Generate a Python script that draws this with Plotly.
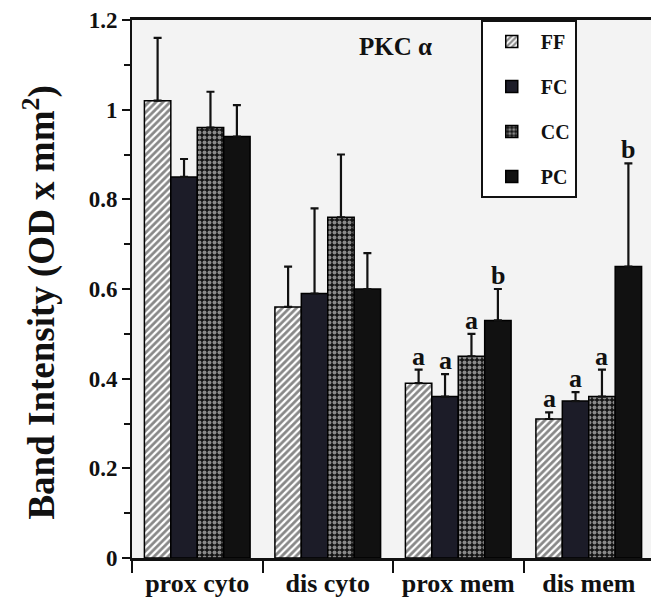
import plotly.graph_objects as go

categories = ["prox cyto", "dis cyto", "prox mem", "dis mem"]
groups = ["FF", "FC", "CC", "PC"]

# mean values per group (one value per category)
values = {
    "FF": [1.02, 0.56, 0.39, 0.31],
    "FC": [0.85, 0.59, 0.36, 0.35],
    "CC": [0.96, 0.76, 0.45, 0.36],
    "PC": [0.94, 0.60, 0.53, 0.65],
}
# upper error (SE)
errors = {
    "FF": [0.14, 0.09, 0.03, 0.015],
    "FC": [0.04, 0.19, 0.05, 0.02],
    "CC": [0.08, 0.14, 0.05, 0.06],
    "PC": [0.07, 0.08, 0.07, 0.23],
}
# significance letters (None = no label)
sig_letters = {
    "FF": [None, None, "a", "a"],
    "FC": [None, None, "a", "a"],
    "CC": [None, None, "a", "a"],
    "PC": [None, None, "b", "b"],
}

y_ticks = [0, 0.2, 0.4, 0.6, 0.8, 1.0, 1.2]
y_tick_text = ["0", "0.2", "0.4", "0.6", "0.8", "1", "1.2"]

SERIF = "Liberation Serif"

styles = {
    "FF": dict(color="white", pattern=dict(shape="/", fgcolor="#111", bgcolor="white", size=5, solidity=0.55)),
    "FC": dict(color="#1c1c28", pattern=None),
    "CC": dict(color="#141414", pattern=dict(shape=".", fgcolor="white", bgcolor="#141414", size=5, solidity=0.5)),
    "PC": dict(color="#111111", pattern=None),
}

fig = go.Figure()
for i, g in enumerate(groups):
    st = styles[g]
    marker = dict(color=st["color"], line=dict(color="black", width=1.5))
    if st["pattern"] is not None:
        marker["pattern"] = st["pattern"]
    fig.add_trace(go.Bar(
        name=g, x=categories, y=values[g],
        marker=marker,
        legendgroup=g,
        error_y=dict(type="data", symmetric=False, array=errors[g],
                     arrayminus=[0] * len(categories),
                     color="#111", thickness=2.2, width=4),
    ))

bargap = 0.19
n = len(groups)
bw = (1 - bargap) / n
for i, g in enumerate(groups):
    off = -(1 - bargap) / 2 + bw * (i + 0.5)
    for j, c in enumerate(categories):
        lab = sig_letters[g][j]
        if lab:
            fig.add_annotation(
                x=j + off, y=values[g][j] + errors[g][j], xref="x", yref="y",
                text=lab, showarrow=False, yanchor="bottom", yshift=-3,
                font=dict(family=SERIF, size=26, color="#111", weight="bold"),
            )

fig.add_annotation(
    x=0.507, y=0.95, xref="paper", yref="paper", text="PKC α", showarrow=False,
    yanchor="middle", xanchor="center",
    font=dict(family=SERIF, size=25, color="#111", weight="bold"),
)
fig.add_annotation(
    x=-0.177, y=0.475, xref="paper", yref="paper",
    text="Band Intensity (OD x mm<sup>2</sup>)", textangle=-90, showarrow=False,
    xanchor="center", yanchor="middle",
    font=dict(family=SERIF, size=37, color="#111", weight="bold"),
)

fig.update_layout(
    width=651, height=601,
    margin=dict(l=132, r=0, t=20, b=43),
    paper_bgcolor="white", plot_bgcolor="#f3f3f3",
    barmode="group", bargap=bargap, bargroupgap=0,
    showlegend=True,
    legend=dict(
        x=0.672, y=1, xanchor="left", yanchor="top",
        bgcolor="white", bordercolor="#111", borderwidth=2,
        font=dict(family=SERIF, size=20, color="#111", weight="bold"),
        tracegroupgap=16, itemwidth=48, traceorder="grouped",
        entrywidth=106, entrywidthmode="pixels",
    ),
    xaxis=dict(
        type="category", categoryorder="array", categoryarray=categories,
        range=[-0.5, 3.477], tickson="boundaries", ticks="outside", ticklen=12, tickwidth=1.5,
        tickcolor="#111", showline=True, linecolor="#111", linewidth=2.5, mirror=True,
        showgrid=False, zeroline=False,
        tickfont=dict(family=SERIF, size=26, color="#111", weight="bold"),
    ),
    yaxis=dict(
        range=[0, 1.2], tickvals=y_ticks, ticktext=y_tick_text, ticks="outside", ticklen=8,
        tickwidth=2, tickcolor="#111", showline=True, linecolor="#111", linewidth=2,
        showgrid=False, zeroline=False,
        minor=dict(dtick=0.1, ticks="outside", ticklen=6, tickwidth=1.5, tickcolor="#111"),
        tickfont=dict(family=SERIF, size=23, color="#111", weight="bold"),
    ),
)

fig.write_html("out.html")
